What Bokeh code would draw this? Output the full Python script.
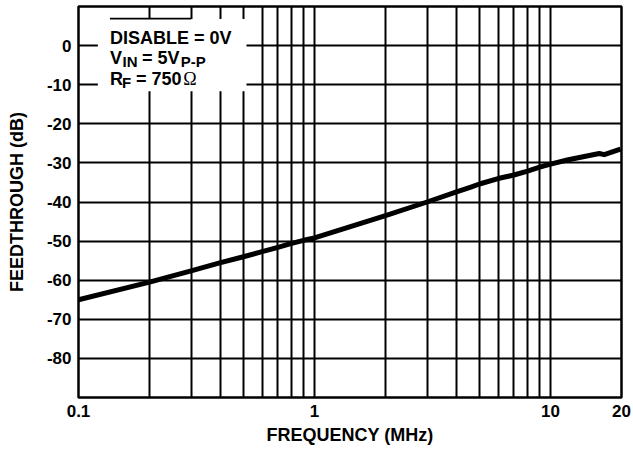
from bokeh.plotting import figure
from bokeh.models import FixedTicker, Label, BoxAnnotation
from bokeh.embed import file_html
from bokeh.resources import INLINE

# ---- data ----
freq_mhz = [0.1, 0.2, 0.3, 0.4, 0.5, 0.6, 0.7, 0.8, 0.9, 1.0, 2.0, 3.0, 4.0, 4.6, 5.0,
            6.0, 7.0, 8.0, 9.0, 10.0, 11.9, 16.1, 16.9, 19.8]
feedthrough_db = [-65.0, -60.5, -57.6, -55.5, -54.0, -52.7, -51.6, -50.6, -49.8, -49.2,
                  -43.5, -40.0, -37.4, -36.2, -35.4, -34.0, -33.1, -32.1, -31.1, -30.3,
                  -29.2, -27.6, -27.9, -26.5]

x_ticks = [0.1, 1, 10, 20]
x_tick_labels = ["0.1", "1", "10", "20"]
x_grid = [0.2, 0.3, 0.4, 0.5, 0.6, 0.7, 0.8, 0.9, 1, 2, 3, 4, 5, 6, 7, 8, 9, 10, 20]
y_ticks = [-80, -70, -60, -50, -40, -30, -20, -10, 0]
y_tick_labels = ["-80", "-70", "-60", "-50", "-40", "-30", "-20", "-10", "0"]

FONT = "Liberation Sans"

p = figure(width=633, height=450, x_axis_type="log",
           x_range=(0.1, 20), y_range=(-90, 10),
           output_backend="svg", toolbar_location=None,
           min_border_left=78, min_border_right=12,
           min_border_top=6, min_border_bottom=53)
p.background_fill_color = "white"
p.border_fill_color = "white"
p.outline_line_color = "black"
p.outline_line_width = 2.5
p.outline_line_alpha = 1.0

# curve
p.line(freq_mhz, feedthrough_db, line_color="black", line_width=5, line_join="round")

# grids
p.xgrid.ticker = FixedTicker(ticks=x_grid)
p.ygrid.ticker = FixedTicker(ticks=y_ticks)
for g in (p.xgrid, p.ygrid):
    g.grid_line_color = "black"
    g.grid_line_width = 2
    g.grid_line_alpha = 1.0

# axes
p.xaxis.ticker = FixedTicker(ticks=x_ticks)
p.xaxis.major_label_overrides = dict(zip(x_ticks, x_tick_labels))
p.yaxis.ticker = FixedTicker(ticks=y_ticks)
p.yaxis.major_label_overrides = dict(zip(y_ticks, y_tick_labels))
for ax in (p.xaxis, p.yaxis):
    ax.axis_line_color = None
    ax.major_tick_line_color = None
    ax.minor_tick_line_color = None
    ax.major_tick_in = 0
    ax.major_tick_out = 0
    ax.major_label_text_font = FONT
    ax.major_label_text_font_style = "bold"
    ax.major_label_text_font_size = "17px"
    ax.major_label_text_color = "black"
    ax.axis_label_text_font = FONT
    ax.axis_label_text_font_style = "bold"
    ax.axis_label_text_font_size = "18px"
    ax.axis_label_text_color = "black"
p.xaxis.axis_label = "FREQUENCY (MHz)"
p.yaxis.axis_label = "FEEDTHROUGH (dB)"
p.xaxis.major_label_standoff = 7
p.xaxis.axis_label_standoff = 5
p.yaxis.major_label_standoff = 7
p.yaxis.axis_label_standoff = 17

# legend-like text box (white background hiding the grid)
p.add_layout(BoxAnnotation(left=0.1208, right=0.515, top=6.8, bottom=-11.7,
                           fill_color="white", fill_alpha=1.0, line_color=None))
p.add_layout(BoxAnnotation(left=0.136, right=0.3, top=7.1, bottom=6.7,
                           fill_color="black", fill_alpha=1.0, line_color=None))

def lab(x, y, text, size="18px", font=FONT, style="bold"):
    p.add_layout(Label(x=x, y=y, text=text, text_font=font, text_font_style=style,
                       text_font_size=size, text_color="black",
                       text_baseline="alphabetic", text_align="left"))

lab(0.136, 2.0, "DISABLE = 0V")
lab(0.136, -3.25, "V")
lab(0.1538, -4.15, "IN", size="15px")
lab(0.186, -3.25, "= 5V")
lab(0.2715, -4.15, "P-P", size="15px")
lab(0.136, -8.5, "R")
lab(0.1528, -9.4, "F", size="15px")
lab(0.1752, -8.5, "= 750")
lab(0.2776, -8.5, "\u03a9", font="Liberation Serif", style="normal")

open("out.html", "w").write(file_html(p, INLINE))
